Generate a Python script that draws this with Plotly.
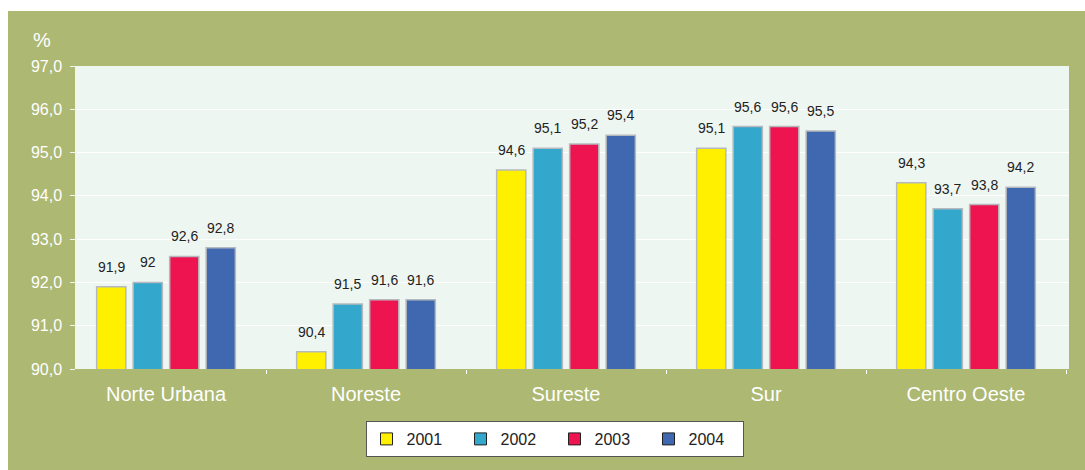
import plotly.graph_objects as go

# Regions and yearly percentages
regions = ["Norte Urbana", "Noreste", "Sureste", "Sur", "Centro Oeste"]
years = ["2001", "2002", "2003", "2004"]
v2001 = [91.9, 90.4, 94.6, 95.1, 94.3]
v2002 = [92, 91.5, 95.1, 95.6, 93.7]
v2003 = [92.6, 91.6, 95.2, 95.6, 93.8]
v2004 = [92.8, 91.6, 95.4, 95.5, 94.2]
series = [v2001, v2002, v2003, v2004]
colors = ["#FFF000", "#33A7CC", "#EE1450", "#3F68B1"]

y_ticks = [90, 91, 92, 93, 94, 95, 96, 97]

W, H = 1085, 470
ML, MR, MT, MB = 77, 16, 66, 101
PW, PH = W - ML - MR, H - MT - MB

GREEN = "#ADB872"
FONT = "Liberation Sans, Arial, Helvetica, sans-serif"
BARGAP, GROUPGAP = 0.27, 0.2
X_RANGE = [-0.445, 4.515]


def fmt(v):
    return f"{v:g}".replace(".", ",")


def px_x(p):
    return (p - ML) / PW


def px_y(p):
    return (H - MB - p) / PH


fig = go.Figure()

for name, vals, col in zip(years, series, colors):
    fig.add_trace(go.Bar(
        x=regions, y=vals, name=name, showlegend=False,
        marker=dict(color=col, line=dict(color="#B5B9BD", width=1.5)),
        hoverinfo="x+y",
    ))
    # legend entry with a black-outlined square
    fig.add_trace(go.Scatter(
        x=[None], y=[None], mode="markers", name=name,
        marker=dict(symbol="square", size=12, color=col,
                    line=dict(color="#222222", width=1)),
    ))

# value labels above each bar
cat_px = PW / (X_RANGE[1] - X_RANGE[0])
pitch = cat_px * (1 - BARGAP) / len(years)
annotations = []
for i, vals in enumerate(series):
    shift = (i - (len(years) - 1) / 2) * pitch
    for reg, v in zip(regions, vals):
        annotations.append(dict(
            x=reg, y=v, xref="x", yref="y", text=fmt(v), showarrow=False,
            xshift=shift, yshift=10, yanchor="bottom",
            font=dict(family=FONT, size=14, color="#222222"),
        ))

annotations.append(dict(
    x=px_x(42), y=px_y(40), xref="paper", yref="paper", text="%",
    showarrow=False, xanchor="center", yanchor="middle",
    font=dict(family=FONT, size=20, color="white"),
))

# white page border around the green panel
shapes = [
    dict(type="rect", xref="paper", yref="paper", layer="above",
         x0=px_x(0), x1=px_x(W), y0=px_y(0), y1=px_y(11),
         fillcolor="white", line=dict(width=0)),
    dict(type="rect", xref="paper", yref="paper", layer="above",
         x0=px_x(0), x1=px_x(8), y0=px_y(H), y1=px_y(0),
         fillcolor="white", line=dict(width=0)),
]

fig.update_layout(
    width=W, height=H,
    margin=dict(l=ML, r=MR, t=MT, b=MB, pad=0),
    paper_bgcolor=GREEN, plot_bgcolor="#EEF6F1",
    separators=",.",
    barmode="group", bargap=BARGAP, bargroupgap=GROUPGAP,
    font=dict(family=FONT, color="white"),
    annotations=annotations, shapes=shapes,
    legend=dict(
        orientation="h", x=px_x(554.5), xanchor="center",
        y=px_y(421), yanchor="top",
        bgcolor="white", bordercolor="#555555", borderwidth=1,
        font=dict(family=FONT, size=16, color="#222222"),
        entrywidth=49, itemwidth=30,
    ),
    xaxis=dict(
        range=X_RANGE,
        showgrid=False, showline=False, zeroline=False,
        ticks="outside", tickson="boundaries", ticklen=4, tickcolor="white",
        tickfont=dict(family=FONT, size=20, color="white"),
        ticklabelstandoff=11,
    ),
    yaxis=dict(
        range=[90, 97], tickvals=y_ticks, tickformat=".1f",
        showgrid=True, gridcolor="white", gridwidth=1,
        showline=True, linecolor="#F2F4EE", linewidth=1.5,
        zeroline=False,
        ticks="outside", ticklen=5, tickcolor="#F2F4EE",
        tickfont=dict(family=FONT, size=16, color="white"),
        ticklabelstandoff=5,
    ),
)

fig.write_html("out.html")
